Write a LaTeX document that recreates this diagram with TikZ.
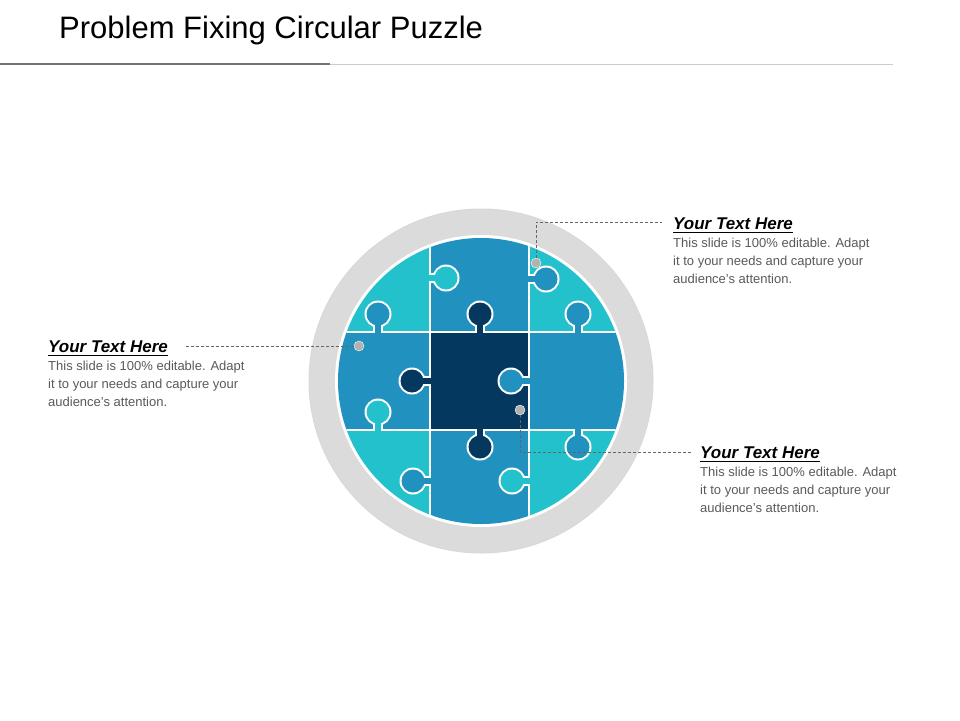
\documentclass[tikz,border=0pt]{standalone}
\usepackage{fontspec}
\setmainfont{Liberation Sans}
\definecolor{lt}{HTML}{22C1CC}
\definecolor{md}{HTML}{2191BF}
\definecolor{dk}{HTML}{05385E}
\definecolor{ring}{HTML}{DCDBDC}
\definecolor{txt}{HTML}{595959}
\usetikzlibrary{calc}
\newcommand{\knob}[5]{% bx,by,cx,cy,color
  \draw[white,line width=10] (#1,#2)--(#3,#4);
  \fill[white] (#3,#4) circle (13.5);
  \draw[#5,line width=6] ($(#1,#2)!-0.3!(#3,#4)$)--(#3,#4);
  \fill[#5] (#3,#4) circle (11.5);}
\tikzset{head/.style={anchor=west,font=\fontsize{17}{20}\selectfont\bfseries\itshape,inner sep=0},
body/.style={anchor=north west,align=left,text=txt,font=\fontsize{13}{18}\selectfont,inner sep=0},
lead/.style={densely dashed,draw=gray!80!black,line width=0.7},
uln/.style={line width=1},
dot/.style={circle,fill=gray!60,draw=white,inner sep=0,minimum size=10}}
\begin{document}
\begin{tikzpicture}[x=1pt,y=-1pt]
\useasboundingbox (0,0) rectangle (960,720);
\node[anchor=west,inner sep=0,font=\fontsize{31}{36}\selectfont] (title) at (59,30) {Problem Fixing Circular Puzzle};
\draw[gray!90!black,line width=2] (0,64)--(330,64);
\draw[gray!40,line width=0.8] (330,64)--(893,64);
% ring
\fill[ring,draw=gray!30,line width=1] (481,381) circle (172);
\fill[white] (481,381) circle (146);
\begin{scope}
\clip (481,381) circle (143);
\fill[lt] (330,230) rectangle (430,332);
\fill[md] (430,230) rectangle (529,332);
\fill[lt] (529,230) rectangle (630,332);
\fill[md] (330,332) rectangle (430,430);
\fill[dk] (430,332) rectangle (529,430);
\fill[md] (529,332) rectangle (630,430);
\fill[lt] (330,430) rectangle (430,530);
\fill[md] (430,430) rectangle (529,530);
\fill[lt] (529,430) rectangle (630,530);
\draw[white,line width=1.8] (430,230)--(430,530) (529,230)--(529,530) (330,332)--(630,332) (330,430)--(630,430);
\knob{430}{278}{446}{278}{lt}
\knob{378}{332}{378}{314}{md}
\knob{480}{332}{480}{314}{dk}
\knob{529}{279}{546}{279}{md}
\knob{578}{332}{578}{314}{md}
\knob{430}{381}{412}{381}{dk}
\knob{378}{430}{378}{412}{lt}
\knob{529}{381}{511}{381}{md}
\knob{480}{430}{480}{447}{dk}
\knob{578}{430}{578}{447}{md}
\knob{430}{481}{413}{481}{md}
\knob{529}{481}{512}{481}{lt}
\end{scope}
% leaders
\node[dot] (d1) at (536,263) {};
\node[dot] (d2) at (359,346) {};
\node[dot] (d3) at (520,410) {};
\coordinate (e1) at (662,222);
\coordinate (e2) at (186,346);
\coordinate (e3) at (692,452);
\draw[lead] (d1.north) |- (e1);
\draw[lead] (d2.west) -- (e2);
\draw[lead] (d3.south) |- (e3);
% texts
\node[head] (h1) at (673,224) {Your Text Here};
\node[body] (b1) at (673,238) {This slide is 100\% editable. Adapt\\it to your needs and capture your\\audience's attention.};
\node[head] (h2) at (48,347) {Your Text Here};
\node[body] (b2) at (48,361) {This slide is 100\% editable. Adapt\\it to your needs and capture your\\audience's attention.};
\node[head] (h3) at (700,453) {Your Text Here};
\node[body] (b3) at (700,467) {This slide is 100\% editable. Adapt\\it to your needs and capture your\\audience's attention.};
\foreach \h in {h1,h2,h3} \draw[uln] ([yshift=-2]\h.south west) -- ([yshift=-2]\h.south east);
\end{tikzpicture}
\end{document}
